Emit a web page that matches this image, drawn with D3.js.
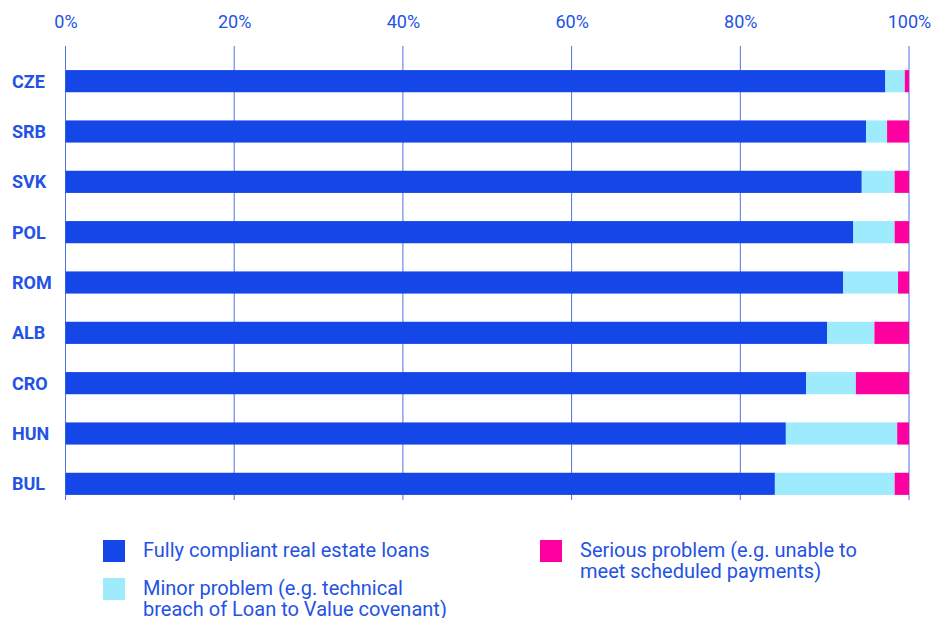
<!DOCTYPE html>
<html><head><meta charset="utf-8">
<script src="https://cdn.jsdelivr.net/npm/d3@7"></script>
<style>body{margin:0;background:#fff;} svg{display:block;}</style>
</head><body>
<svg id="c" width="933" height="618"></svg>
<script>
const categories = ["CZE","SRB","SVK","POL","ROM","ALB","CRO","HUN","BUL"];
const fullyCompliant = [97.2, 94.9, 94.4, 93.4, 92.2, 90.3, 87.8, 85.4, 84.1];
const minorProblem   = [2.3, 2.5, 3.9, 4.9, 6.5, 5.6, 5.9, 13.2, 14.2];
const seriousProblem = [0.5, 2.6, 1.7, 1.7, 1.3, 4.1, 6.3, 1.4, 1.7];
const seriesNames = ["Fully compliant real estate loans","Minor problem (e.g. technical breach of Loan to Value covenant)","Serious problem (e.g. unable to meet scheduled payments)"];
const tickValues = [0,20,40,60,80,100];

const colors = ["#1446e8","#9eebfd","#ff00a0"];
const textColor = "#2453e3";
const font = "Roboto, 'Liberation Sans', Arial, sans-serif";

const svg = d3.select("#c");
const x = d3.scaleLinear().domain([0,100]).range([65.5, 909]);
const y = d3.scaleBand().domain(categories).range([56, 509]).paddingInner(0.56).paddingOuter(0.28);

// grid
svg.append("g").selectAll("line").data(tickValues).join("line")
  .attr("x1", d=>x(d)).attr("x2", d=>x(d)).attr("y1", 46).attr("y2", 500)
  .attr("stroke", "#4f72e3").attr("stroke-width", 1);

// top axis labels
const ax = svg.append("g").attr("transform","translate(0,28)")
  .call(d3.axisTop(x).tickValues(tickValues).tickFormat(d=>d+"%").tickSize(0).tickPadding(0));
ax.select(".domain").remove();
ax.selectAll("text").attr("fill", textColor).style("font-family", font).style("font-size","18px");

const data = categories.map((c,i)=>({cat:c, v:[fullyCompliant[i], minorProblem[i], seriousProblem[i]]}));
const stack = d3.stack().keys([0,1,2]).value((d,k)=>d.v[k]);
const stacked = stack(data);

svg.append("g").selectAll("g").data(stacked).join("g")
  .attr("fill", (d,i)=>colors[i])
  .selectAll("rect").data(d=>d).join("rect")
  .attr("x", d=>x(d[0])).attr("width", d=>Math.max(0, x(Math.min(100,d[1]))-x(d[0])))
  .attr("y", d=>y(d.data.cat)).attr("height", y.bandwidth());

// category labels
svg.append("g").selectAll("text").data(categories).join("text")
  .attr("x", 12).attr("y", d=>y(d)+y.bandwidth()/2).attr("dy","0.36em")
  .attr("fill", textColor).style("font-family", font).style("font-size","18px").style("font-weight","bold")
  .text(d=>d);

// legend
const legend = [
  {i:0, x:103, y:540, lines:["Fully compliant real estate loans"]},
  {i:1, x:103, y:578, lines:["Minor problem (e.g. technical","breach of Loan to Value covenant)"]},
  {i:2, x:540, y:540, lines:["Serious problem (e.g. unable to","meet scheduled payments)"]}
];
const lg = svg.append("g").selectAll("g").data(legend).join("g");
lg.append("rect").attr("x", d=>d.x).attr("y", d=>d.y).attr("width",22).attr("height",22).attr("fill", d=>colors[d.i]);
lg.each(function(d){
  const t = d3.select(this).append("text").attr("fill", textColor).style("font-family", font).style("font-size","20px");
  d.lines.forEach((l,k)=>t.append("tspan").attr("x", d.x+40).attr("y", d.y+17+k*21).text(l));
});
</script>
</body></html>
